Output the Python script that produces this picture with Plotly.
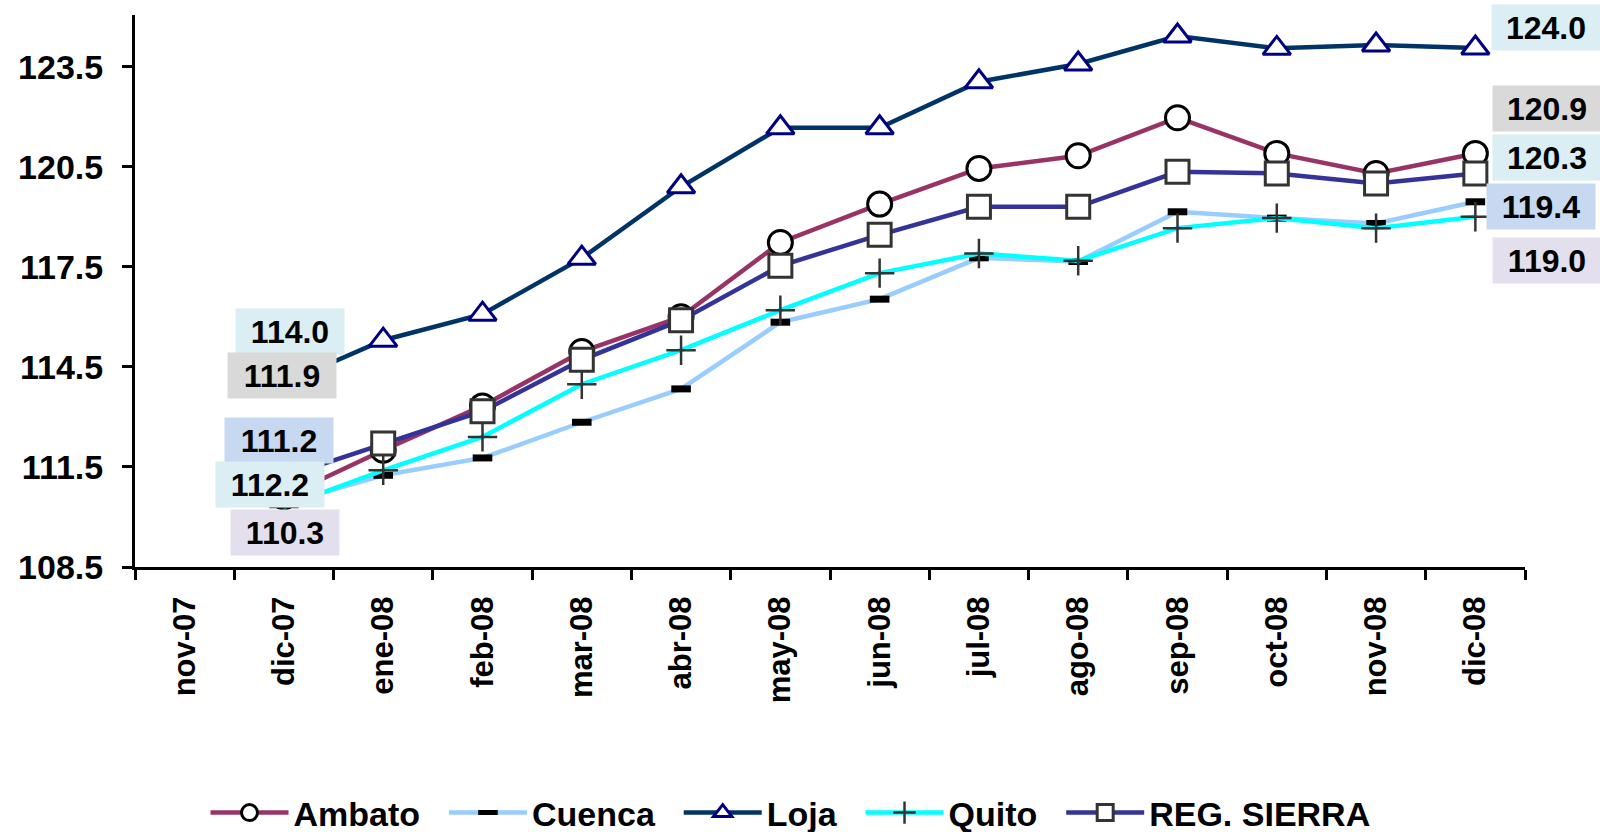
import plotly.graph_objects as go

# ---------------- data ----------------
months = ["nov-07", "dic-07", "ene-08", "feb-08", "mar-08", "abr-08", "may-08",
          "jun-08", "jul-08", "ago-08", "sep-08", "oct-08", "nov-08", "dic-08"]

ambato = [None, 110.6, 112.0, 113.33, 114.96, 116.0, 118.23, 119.38, 120.45,
          120.83, 121.97, 120.9, 120.3, 120.9]
cuenca = [None, 110.4, 111.25, 111.77, 112.84, 113.84, 115.84, 116.53, 117.77,
          117.66, 119.15, 118.96, 118.8, 119.45]
loja = [None, 114.0, 115.3, 116.08, 117.76, 119.9, 121.67, 121.67, 123.05,
        123.58, 124.42, 124.05, 124.15, 124.06]
quito = [None, 110.3, 111.4, 112.4, 113.98, 115.0, 116.2, 117.31, 117.9,
         117.68, 118.66, 118.96, 118.66, 119.0]
reg_sierra = [None, 111.2, 112.2, 113.17, 114.71, 115.9, 117.53, 118.46, 119.3,
              119.3, 120.35, 120.3, 120.0, 120.3]

y_ticks = [108.5, 111.5, 114.5, 117.5, 120.5, 123.5]
y_tick_labels = ["108.5", "111.5", "114.5", "117.5", "120.5", "123.5"]

left_labels = ["114.0", "111.9", "111.2", "112.2", "110.3"]
right_labels = ["124.0", "120.9", "120.3", "119.4", "119.0"]

# ---------------- layout geometry ----------------
W, H = 1600, 832
L, R, T, B = 135, 1525, 15, 567
FONT = "Liberation Sans, Arial, sans-serif"

C_CYAN_BOX = "#DAEEF3"
C_GREY_BOX = "#D9D9D9"
C_BLUE_BOX = "#C6D9F1"
C_LAV_BOX = "#E4DFEC"

left_box_colors = [C_CYAN_BOX, C_GREY_BOX, C_BLUE_BOX, C_CYAN_BOX, C_LAV_BOX]
right_box_colors = [C_CYAN_BOX, C_GREY_BOX, C_CYAN_BOX, C_BLUE_BOX, C_LAV_BOX]
left_box_pos = [(290, 331), (282, 375), (279, 440), (270, 484), (285, 532)]
right_box_pos = [(1546, 28), (1547, 109), (1547, 157), (1541, 206), (1547, 260)]


def px_to_paper(px, py):
    return (px - L) / (R - L), (B - py) / (B - T)


fig = go.Figure()

series = [
    ("Ambato", ambato, "#993366",
     dict(symbol="circle", size=24, color="white", line=dict(color="black", width=3))),
    ("Cuenca", cuenca, "#99CCFF",
     dict(symbol="line-ew-open", size=14, color="black", line=dict(color="black", width=7))),
    ("Loja", loja, "#003366",
     dict(symbol="triangle-up", size=24, color="white", line=dict(color="#000080", width=3))),
    ("Quito", quito, "#00FFFF",
     dict(symbol="cross-thin-open", size=21, color="#333333", line=dict(color="#333333", width=2.5))),
    ("REG. SIERRA", reg_sierra, "#333399",
     dict(symbol="square", size=23, color="white", line=dict(color="#333333", width=3))),
]

for name, vals, col, mk in series:
    fig.add_trace(go.Scatter(
        x=months, y=vals, name="<b>%s</b>&nbsp;&nbsp;" % name, mode="lines+markers",
        line=dict(color=col, width=4.5), marker=mk, connectgaps=False,
    ))

annotations = []
for txt, colr, (px, py) in zip(left_labels + right_labels,
                               left_box_colors + right_box_colors,
                               left_box_pos + right_box_pos):
    ax, ay = px_to_paper(px, py)
    annotations.append(dict(
        x=ax, y=ay, xref="paper", yref="paper", text="<b>%s</b>" % txt,
        showarrow=False, bgcolor=colr, width=106, height=43,
        font=dict(family=FONT, size=32, color="black"),
        xanchor="center", yanchor="middle", align="center", valign="middle",
    ))

fig.update_layout(
    width=W, height=H,
    margin=dict(l=L, r=W - R, t=T, b=H - B, autoexpand=False),
    paper_bgcolor="white", plot_bgcolor="white",
    font=dict(family=FONT, color="black"),
    showlegend=True,
    legend=dict(orientation="h", xref="container", yref="container",
                x=0.5, xanchor="center", y=1 - 813.0 / H, yanchor="middle",
                font=dict(family=FONT, size=34, color="black"),
                itemwidth=78, tracegroupgap=0),
    annotations=annotations,
    xaxis=dict(type="category", range=[-0.5, 13.5], tickson="boundaries",
               ticks="outside", ticklen=10, tickwidth=3, tickcolor="black",
               showline=True, linecolor="black", linewidth=3,
               showgrid=False, zeroline=False, tickangle=-90,
               tickfont=dict(family=FONT, size=31, color="black"),
               ticklabelstandoff=14,
               tickvals=months, ticktext=["<b>%s</b>" % m for m in months]),
    yaxis=dict(range=[108.5, 125.05], tickvals=y_ticks,
               ticktext=["<b>%s</b>" % t for t in y_tick_labels],
               ticks="outside", ticklen=10, tickwidth=3, tickcolor="black",
               showline=True, linecolor="black", linewidth=3,
               showgrid=False, zeroline=False, ticklabelstandoff=12,
               tickfont=dict(family=FONT, size=34, color="black")),
)

fig.write_html("out.html", config={"displayModeBar": False},
               post_script="document.body.style.margin='0px';")
